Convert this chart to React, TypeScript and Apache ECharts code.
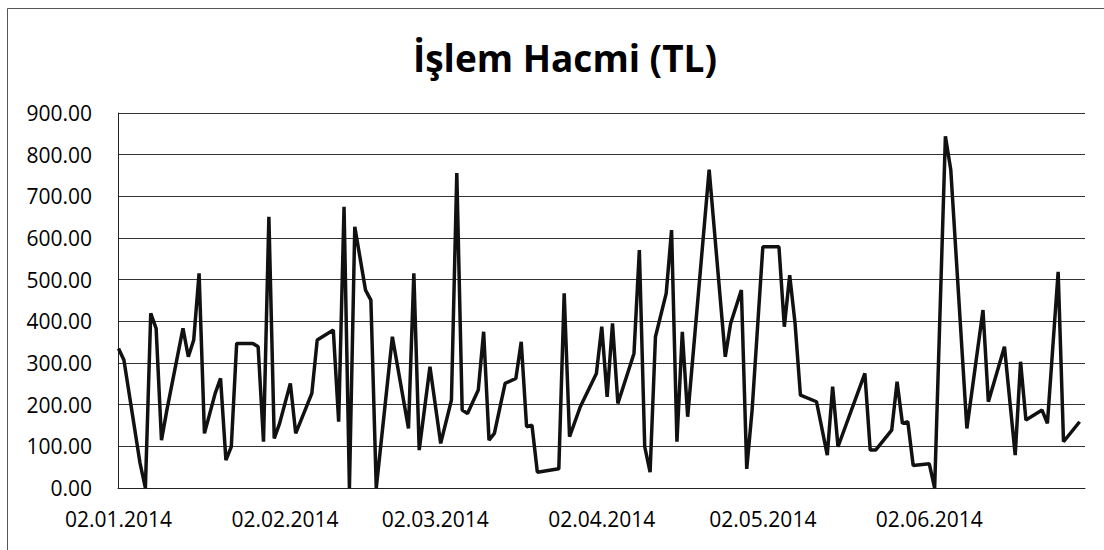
import React, { useEffect, useRef } from "react";
import * as echarts from "echarts";

const chartTitle = "İşlem Hacmi (TL)";
const yMin = 0;
const yMax = 900;
const yStep = 100;
const xTickLabels = ["02.01.2014", "02.02.2014", "02.03.2014", "02.04.2014", "02.05.2014", "02.06.2014"];
const year = 2014;

const janDays = [2, 3, 6, 7, 8, 9, 10, 11, 14, 15, 16, 17, 18, 19, 20, 21, 22, 23, 24, 27, 28, 29, 30, 31];
const janValues = [335, 307, 60, 0, 419, 383, 115, 187, 383, 315, 355, 515, 131, 179, 227, 263, 67, 99, 347, 347, 339, 111, 651, 119];

const febDays = [1, 3, 4, 7, 8, 11, 12, 13, 14, 15, 17, 18, 19, 22, 25, 26, 27];
const febValues = [155, 251, 131, 227, 355, 379, 159, 675, 0, 627, 475, 451, 0, 363, 143, 515, 91];

const marDays = [1, 3, 5, 6, 7, 8, 10, 11, 12, 13, 15, 17, 18, 19, 20, 21, 25, 26, 27, 29];
const marValues = [291, 107, 211, 756, 187, 179, 235, 375, 115, 131, 251, 263, 351, 147, 151, 38, 46, 467, 123, 195];

const aprDays = [1, 2, 3, 4, 5, 8, 9, 10, 11, 12, 14, 15, 16, 17, 18, 22, 25, 26, 28, 29, 30];
const aprValues = [275, 387, 219, 395, 203, 323, 571, 99, 38, 363, 467, 619, 111, 375, 171, 764, 315, 395, 475, 46, 187];

const mayDays = [2, 5, 6, 7, 8, 9, 12, 14, 15, 16, 21, 22, 23, 26, 27, 28, 29, 30];
const mayValues = [579, 579, 387, 511, 395, 223, 207, 79, 243, 99, 275, 91, 91, 139, 255, 155, 159, 54];

const junDays = [2, 3, 5, 6, 9, 12, 13, 16, 18, 19, 20, 23, 24, 26, 27, 30];
const junValues = [58, 0, 844, 764, 143, 427, 207, 339, 79, 303, 163, 187, 155, 519, 111, 159];

const months: [number, number[], number[]][] = [
  [0, janDays, janValues],
  [1, febDays, febValues],
  [2, marDays, marValues],
  [3, aprDays, aprValues],
  [4, mayDays, mayValues],
  [5, junDays, junValues],
];

const FONT = "Open Sans";
const DAY = 86400000;
const START = Date.UTC(year, 0, 2);

function dayIndex(y: number, m: number, d: number): number {
  return Math.round((Date.UTC(y, m, d) - START) / DAY);
}

function parseLabel(s: string): number {
  const [d, m, y] = s.split(".").map(Number);
  return dayIndex(y, m - 1, d);
}

export default function App() {
  const ref = useRef<HTMLDivElement>(null);

  useEffect(() => {
    if (!ref.current) return;
    const chart = echarts.init(ref.current, null, { renderer: "svg" });

    const data: [number, number][] = [];
    months.forEach(([m, days, vals]) => {
      days.forEach((d, i) => {
        data.push([dayIndex(year, m, d), vals[i]]);
      });
    });

    const tickDays = xTickLabels.map(parseLabel);

    chart.setOption({
      animation: false,
      backgroundColor: "#ffffff",
      title: {
        text: chartTitle,
        left: 560,
        top: 34,
        textAlign: "center",
        textStyle: { fontFamily: FONT, fontWeight: "bold", fontSize: 37, color: "#000" },
      },
      grid: { left: 118, right: 19, top: 113, bottom: 62, containLabel: false },
      xAxis: {
        type: "value",
        min: -0.1,
        max: 180,
        axisLine: { show: true, onZero: false, lineStyle: { color: "#222", width: 1 } },
        axisTick: { show: false },
        splitLine: { show: false },
        axisLabel: {
          customValues: tickDays,
          formatter: (v: number) => {
            const idx = tickDays.indexOf(Math.round(v));
            return idx >= 0 ? xTickLabels[idx] : "";
          },
          fontFamily: FONT,
          fontSize: 21,
          color: "#000",
          margin: 20,
        },
      },
      yAxis: {
        type: "value",
        min: yMin,
        max: yMax,
        interval: yStep,
        axisLine: { show: true, lineStyle: { color: "#222", width: 1 } },
        axisTick: { show: false },
        splitLine: { show: true, lineStyle: { color: "#333", width: 1 } },
        axisLabel: {
          formatter: (v: number) => v.toFixed(2),
          fontFamily: FONT,
          fontSize: 21,
          color: "#000",
          margin: 26,
        },
      },
      series: [
        {
          type: "line",
          data,
          showSymbol: false,
          symbol: "none",
          lineStyle: { color: "#111", width: 3.5 },
          itemStyle: { color: "#111" },
        },
      ],
      graphic: [
        { type: "line", shape: { x1: 7.5, y1: 8.5, x2: 7.5, y2: 550 }, style: { stroke: "#555", lineWidth: 1 } },
        { type: "line", shape: { x1: 7.5, y1: 8.5, x2: 1104, y2: 8.5 }, style: { stroke: "#555", lineWidth: 1 } },
      ],
    });

    return () => chart.dispose();
  }, []);

  return (
    <div
      ref={ref}
      style={{ position: "absolute", left: 0, top: 0, width: 1104, height: 550, background: "#fff" }}
    />
  );
}
